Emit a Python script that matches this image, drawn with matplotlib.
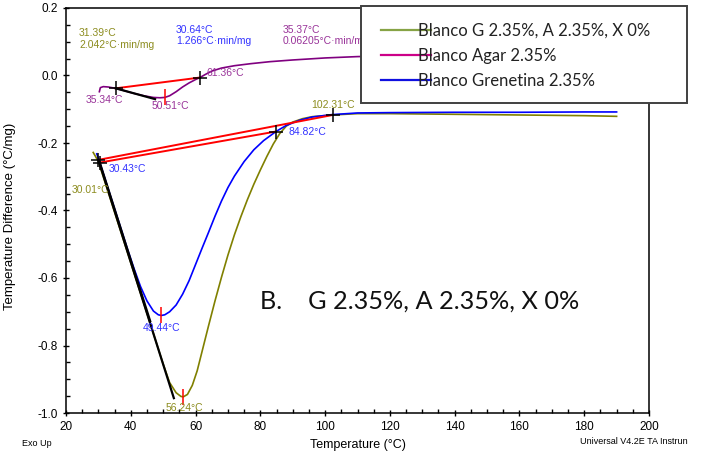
import matplotlib.pyplot as plt
from matplotlib.lines import Line2D
from matplotlib.patches import Rectangle
from matplotlib.ticker import MultipleLocator

plt.rcParams["font.family"] = ["Liberation Sans", "DejaVu Sans"]

# DSC traces (temperature in °C, heat flow difference in °C/mg)
temp_mix = [28.4, 29.0, 30.0, 31.0, 33.0, 35.0, 38.0, 41.0, 44.0, 47.0, 50.0, 52.0, 54.0, 55.5,
            56.24, 57.5, 59.0, 60.5, 62.0, 64.0, 66.0, 68.0, 70.0, 72.0, 74.0, 76.0, 78.0, 80.0,
            82.0, 84.0, 86.0, 88.0, 90.0, 93.0, 96.0, 102.3, 110, 120, 140, 160, 180, 190]
diff_mix = [-0.228, -0.238, -0.255, -0.285, -0.345, -0.405, -0.495, -0.585, -0.675, -0.765,
            -0.855, -0.910, -0.940, -0.951, -0.952, -0.945, -0.918, -0.875, -0.818, -0.742,
            -0.668, -0.598, -0.532, -0.472, -0.418, -0.368, -0.322, -0.280, -0.240, -0.203,
            -0.172, -0.150, -0.138, -0.128, -0.122, -0.117, -0.113, -0.113, -0.115, -0.117,
            -0.119, -0.121]

temp_agar = [30.3, 30.6, 31.5, 33, 35.34, 38, 41, 44, 47, 49, 50.51, 52, 54, 56, 58, 60, 61.36,
             63, 65, 68, 72, 77, 83, 90, 100, 110, 125, 140, 160, 180, 190]
diff_agar = [-0.048, -0.036, -0.033, -0.034, -0.038, -0.045, -0.053, -0.060, -0.065, -0.066,
             -0.065, -0.060, -0.048, -0.034, -0.022, -0.012, -0.006, 0.003, 0.013, 0.022,
             0.029, 0.035, 0.041, 0.046, 0.052, 0.056, 0.059, 0.061, 0.063, 0.064, 0.065]

temp_gren = [29.5, 30.0, 30.43, 31.5, 33, 35, 37, 39, 41, 43, 45, 47, 48.5, 49.44, 50.5, 52, 54,
             56, 58, 60, 62, 64, 66, 68, 70, 72, 75, 78, 81, 84.82, 88, 92, 96, 102, 110, 120,
             140, 160, 180, 190]
diff_gren = [-0.232, -0.245, -0.258, -0.290, -0.335, -0.395, -0.455, -0.515, -0.572, -0.625,
             -0.668, -0.698, -0.709, -0.711, -0.709, -0.700, -0.680, -0.648, -0.608, -0.560,
             -0.512, -0.465, -0.417, -0.372, -0.332, -0.298, -0.255, -0.220, -0.193, -0.166,
             -0.148, -0.133, -0.123, -0.116, -0.111, -0.110, -0.109, -0.109, -0.108, -0.108]

# baseline / tangent constructions: (T1, y1, T2, y2)
base_mix = (30.01, -0.250, 102.31, -0.117)
tang_mix = (30.01, -0.250, 53.3, -0.956)
base_gren = (30.43, -0.258, 84.82, -0.166)
tang_gren = (30.43, -0.258, 46.0, -0.728)
base_agar = (35.34, -0.038, 61.36, -0.006)
tang_agar = (35.34, -0.038, 47.5, -0.070)

# peak points
peaks_T = [56.24, 49.44, 50.51]
peaks_y = [-0.952, -0.711, -0.065]

legend_labels = ["Blanco G 2.35%, A 2.35%, X 0%", "Blanco Agar 2.35%", "Blanco Grenetina 2.35%"]

c_mix, c_agar, c_gren = "#808000", "#800080", "#0000ff"
t_mix, t_agar, t_gren = "#8c8c1e", "#993399", "#3333ff"

fig = plt.figure(figsize=(7.01, 4.53), dpi=100)
ax = fig.add_axes([66 / 701, 1 - 413 / 453, 583 / 701, 405 / 453])

ax.plot(temp_mix, diff_mix, color=c_mix, lw=1.2)
ax.plot(temp_agar, diff_agar, color=c_agar, lw=1.2)
ax.plot(temp_gren, diff_gren, color=c_gren, lw=1.2)

for seg in (base_mix, base_gren, base_agar):
    ax.plot([seg[0], seg[2]], [seg[1], seg[3]], color="red", lw=1.4)
for seg in (tang_mix, tang_gren, tang_agar):
    ax.plot([seg[0], seg[2]], [seg[1], seg[3]], color="black", lw=1.6)

# onset / end markers
for seg in (base_mix, base_gren, base_agar):
    ax.plot([seg[0], seg[2]], [seg[1], seg[3]], ls="none", marker="+", ms=10, mew=1.1,
            color="black")
ax.plot(peaks_T, peaks_y, ls="none", marker="|", ms=11, mew=1.1, color="red")

fs = 7.5
ax.text(24.0, 0.141, "31.39°C\n2.042°C·min/mg", color=t_mix, fontsize=fs, va="top")
ax.text(54.0, 0.150, "30.64°C\n1.266°C·min/mg", color=t_gren, fontsize=fs, va="top")
ax.text(87.0, 0.150, "35.37°C\n0.06205°C·min/mg", color=t_agar, fontsize=fs, va="top")

ax.text(31.9, -0.073, "35.34°C", color=t_agar, fontsize=fs, ha="center", va="center")
ax.text(52.1, -0.090, "50.51°C", color=t_agar, fontsize=fs, ha="center", va="center")
ax.text(69.1, 0.007, "61.36°C", color=t_agar, fontsize=fs, ha="center", va="center")
ax.text(27.6, -0.339, "30.01°C", color=t_mix, fontsize=fs, ha="center", va="center")
ax.text(39.0, -0.277, "30.43°C", color=t_gren, fontsize=fs, ha="center", va="center")
ax.text(94.4, -0.167, "84.82°C", color=t_gren, fontsize=fs, ha="center", va="center")
ax.text(102.4, -0.087, "102.31°C", color=t_mix, fontsize=fs, ha="center", va="center")
ax.text(49.5, -0.748, "49.44°C", color=t_gren, fontsize=fs, ha="center", va="center")
ax.text(56.4, -0.985, "56.24°C", color=t_mix, fontsize=fs, ha="center", va="center")

ax.text(79.9, -0.692, "B.    G 2.35%, A 2.35%, X 0%", fontsize=18.2, family="Lato",
        color="#111111", va="baseline")

ax.set_xlim(20, 200)
ax.set_ylim(-1.0, 0.2)
ax.xaxis.set_major_locator(MultipleLocator(20))
ax.xaxis.set_minor_locator(MultipleLocator(5))
ax.yaxis.set_major_locator(MultipleLocator(0.2))
ax.yaxis.set_minor_locator(MultipleLocator(0.05))
ax.yaxis.set_major_formatter(lambda v, p: f"{v:.1f}")
ax.tick_params(which="major", direction="inout", length=5, width=1, labelsize=8.5)
ax.tick_params(which="minor", direction="in", length=3, width=1)
for s in ax.spines.values():
    s.set_linewidth(1.1)

ax.set_xlabel("Temperature (°C)", fontsize=9)
ax.set_ylabel("Temperature Difference (°C/mg)", fontsize=9.5)
ax.xaxis.set_label_coords(0.501, -0.064)
ax.yaxis.set_label_coords(-0.085, 0.486)

fig.text(22 / 701, 1 - 443 / 453, "Exo Up", fontsize=6.5, va="center")
fig.text(580 / 701, 1 - 442 / 453, "Universal V4.2E TA Instrun", fontsize=6.5, va="center")

# legend box sitting over the top-right corner
fig.patches.append(Rectangle((361 / 701, 1 - 103 / 453), 326 / 701, 97 / 453,
                             transform=fig.transFigure, facecolor="white",
                             edgecolor="#404040", lw=1.4, zorder=4))
handles = [Line2D([], [], color="#86a345", lw=1.6),
           Line2D([], [], color="#cc0088", lw=1.6),
           Line2D([], [], color="#1010e0", lw=1.6)]
leg = fig.legend(handles, legend_labels, loc="upper left", bbox_to_anchor=(376 / 701, 1 - 18 / 453),
                 frameon=False, prop={"family": "Lato", "size": 12}, handlelength=3.0,
                 handletextpad=-0.8, labelspacing=0.55, borderaxespad=0, borderpad=0.3)
leg.set_zorder(5)
for t in leg.get_texts():
    t.set_color("#222222")

fig.savefig("out.png", dpi=100)
